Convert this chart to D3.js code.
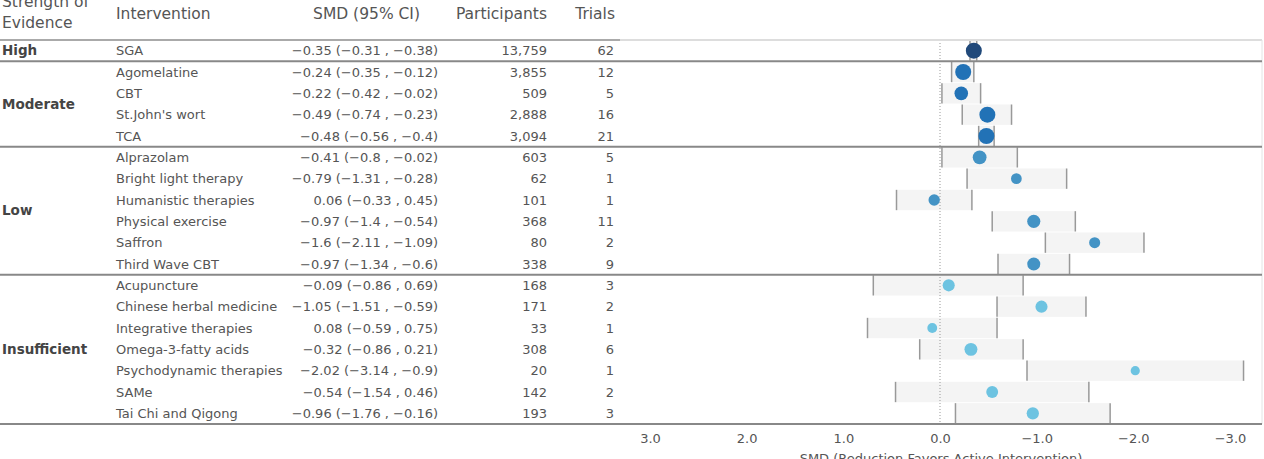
<!DOCTYPE html>
<html>
<head>
<meta charset="utf-8">
<script src="https://cdn.jsdelivr.net/npm/d3@7"></script>
<style>
  html, body { margin: 0; padding: 0; background: #fff; }
  svg { display: block; font-family: "DejaVu Sans", sans-serif; }
</style>
</head>
<body>
<svg id="chart" width="1264" height="459"></svg>
<script>
// ---------- data ----------
const strengthLevels = ["High", "Moderate", "Low", "Insufficient"];
const strengthColors = ["#21497a", "#2272b6", "#4393c5", "#6dc3e1"];

const interventions = ["SGA", "Agomelatine", "CBT", "St.John's wort", "TCA",
  "Alprazolam", "Bright light therapy", "Humanistic therapies", "Physical exercise", "Saffron", "Third Wave CBT",
  "Acupuncture", "Chinese herbal medicine", "Integrative therapies", "Omega-3-fatty acids",
  "Psychodynamic therapies", "SAMe", "Tai Chi and Qigong"];
const strength = ["High", "Moderate", "Moderate", "Moderate", "Moderate",
  "Low", "Low", "Low", "Low", "Low", "Low",
  "Insufficient", "Insufficient", "Insufficient", "Insufficient", "Insufficient", "Insufficient", "Insufficient"];
const smd = [-0.35, -0.24, -0.22, -0.49, -0.48, -0.41, -0.79, 0.06, -0.97, -1.6, -0.97,
  -0.09, -1.05, 0.08, -0.32, -2.02, -0.54, -0.96];
const ciFirst = [-0.31, -0.35, -0.42, -0.74, -0.56, -0.8, -1.31, -0.33, -1.4, -2.11, -1.34,
  -0.86, -1.51, -0.59, -0.86, -3.14, -1.54, -1.76];
const ciSecond = [-0.38, -0.12, -0.02, -0.23, -0.4, -0.02, -0.28, 0.45, -0.54, -1.09, -0.6,
  0.69, -0.59, 0.75, 0.21, -0.9, 0.46, -0.16];
const participants = [13759, 3855, 509, 2888, 3094, 603, 62, 101, 368, 80, 338,
  168, 171, 33, 308, 20, 142, 193];
const trials = [62, 12, 5, 16, 21, 5, 1, 1, 11, 2, 9, 3, 2, 1, 6, 1, 2, 3];
const axisTicks = [3, 2, 1, 0, -1, -2, -3];
const headers = ["Intervention", "SMD (95% CI)", "Participants", "Trials"];
const axisTitle = "SMD (Reduction Favors Active Intervention)";

// ---------- layout ----------
const svg = d3.select("#chart");
const tableTop = 40, tableBottom = 424;
const n = interventions.length;
const y = d3.scaleBand().domain(d3.range(n)).range([tableTop, tableBottom]).padding(0);
const x = d3.scaleLinear().domain([3, -3]).range([650, 1230]);
const r = d3.scaleLog().domain([20, 3000]).range([4.6, 8]).clamp(true);
const color = d3.scaleOrdinal().domain(strengthLevels).range(strengthColors);
const minus = s => String(s).replace(/-/g, "\u2212");
const fmtN = d3.format(",");

const rows = interventions.map((name, i) => ({
  i, name, strength: strength[i], smd: smd[i], a: ciFirst[i], b: ciSecond[i],
  p: participants[i], t: trials[i]
}));

const textCol = "#555";

// ---------- headers ----------
const hdr = svg.append("g").attr("fill", textCol).style("font-size", "15.5px");
hdr.append("text").attr("x", 2).attr("y", 7).text("Strength of");
hdr.append("text").attr("x", 2).attr("y", 28).text("Evidence");
const hx = [116, 420, 547, 615];
const hanchor = ["start", "end", "end", "end"];
hdr.selectAll("text.h").data(headers).join("text").attr("class", "h")
  .attr("x", (d, i) => hx[i]).attr("y", 19).attr("text-anchor", (d, i) => hanchor[i]).text(d => d);

// ---------- CI boxes ----------
const plot = svg.append("g");
const bh = y.bandwidth() - 1;
plot.selectAll("rect.ci").data(rows).join("rect").attr("class", "ci")
  .attr("x", d => Math.min(x(d.a), x(d.b)))
  .attr("width", d => Math.abs(x(d.a) - x(d.b)))
  .attr("y", d => y(d.i) + y.bandwidth() / 2 - bh / 2)
  .attr("height", bh)
  .attr("fill", "#f4f4f4");

// zero line
plot.append("line").attr("x1", x(0)).attr("x2", x(0)).attr("y1", tableTop).attr("y2", tableBottom)
  .attr("stroke", "#999").attr("stroke-width", 1).attr("stroke-dasharray", "1,2");

// CI end lines
const ends = rows.flatMap(d => [{ i: d.i, v: d.a }, { i: d.i, v: d.b }]);
plot.selectAll("line.end").data(ends).join("line").attr("class", "end")
  .attr("x1", d => x(d.v)).attr("x2", d => x(d.v))
  .attr("y1", d => y(d.i) + y.bandwidth() / 2 - bh / 2)
  .attr("y2", d => y(d.i) + y.bandwidth() / 2 + bh / 2)
  .attr("stroke", "#999").attr("stroke-width", 1.5);

// dots
plot.selectAll("circle.pt").data(rows).join("circle").attr("class", "pt")
  .attr("cx", d => x(d.smd))
  .attr("cy", d => y(d.i) + y.bandwidth() / 2)
  .attr("r", d => r(d.p))
  .attr("fill", d => color(d.strength));

// ---------- table text ----------
const tbl = svg.append("g").attr("fill", textCol).style("font-size", "13px");
const cy = d => y(d.i) + y.bandwidth() / 2;
tbl.selectAll("text.name").data(rows).join("text").attr("class", "name")
  .attr("x", 116).attr("y", cy).attr("dy", "0.35em").text(d => d.name);
tbl.selectAll("text.smd").data(rows).join("text").attr("class", "smd")
  .attr("x", 438).attr("y", cy).attr("dy", "0.35em").attr("text-anchor", "end")
  .text(d => `${minus(d.smd)} (${minus(d.a)} , ${minus(d.b)})`);
tbl.selectAll("text.part").data(rows).join("text").attr("class", "part")
  .attr("x", 547).attr("y", cy).attr("dy", "0.35em").attr("text-anchor", "end")
  .text(d => fmtN(d.p));
tbl.selectAll("text.tri").data(rows).join("text").attr("class", "tri")
  .attr("x", 614).attr("y", cy).attr("dy", "0.35em").attr("text-anchor", "end")
  .text(d => d.t);

// group labels and separators
const groupInfo = strengthLevels.map(g => {
  const idx = rows.filter(d => d.strength === g).map(d => d.i);
  return { g, first: d3.min(idx), last: d3.max(idx) };
});
svg.append("g").selectAll("text").data(groupInfo).join("text")
  .attr("x", 2)
  .attr("y", d => (y(d.first) + y(d.last) + y.bandwidth()) / 2)
  .attr("dy", "0.35em")
  .attr("fill", "#444").style("font-size", "13.5px").style("font-weight", "bold")
  .text(d => d.g);

// top line (table part darker, chart part lighter)
svg.append("line").attr("x1", 0).attr("x2", 620).attr("y1", tableTop).attr("y2", tableTop)
  .attr("stroke", "#aaa").attr("stroke-width", 2);
svg.append("line").attr("x1", 620).attr("x2", 1262).attr("y1", tableTop).attr("y2", tableTop)
  .attr("stroke", "#ddd").attr("stroke-width", 2);
// right border
svg.append("line").attr("x1", 1262).attr("x2", 1262).attr("y1", tableTop).attr("y2", tableBottom)
  .attr("stroke", "#e4e4e4").attr("stroke-width", 1);

svg.append("g").selectAll("line").data(groupInfo.slice(0, -1)).join("line")
  .attr("x1", 0).attr("x2", 1262)
  .attr("y1", d => y(d.last) + y.bandwidth()).attr("y2", d => y(d.last) + y.bandwidth())
  .attr("stroke", "#888").attr("stroke-width", 2);

// ---------- axis ----------
const axisG = svg.append("g").attr("transform", `translate(0,${tableBottom})`)
  .call(d3.axisBottom(x).tickValues(axisTicks).tickSize(0).tickPadding(10)
    .tickFormat(d => minus(d3.format(".1f")(d))));
axisG.select(".domain").remove();
axisG.selectAll("text").attr("fill", textCol).style("font-size", "13px")
  .style("font-family", "DejaVu Sans, sans-serif");
svg.append("line").attr("x1", 0).attr("x2", 1262).attr("y1", tableBottom).attr("y2", tableBottom)
  .attr("stroke", "#888").attr("stroke-width", 2);

svg.append("text").attr("x", 941).attr("y", 463).attr("text-anchor", "middle")
  .attr("fill", textCol).style("font-size", "13px").text(axisTitle);
</script>
</body>
</html>
